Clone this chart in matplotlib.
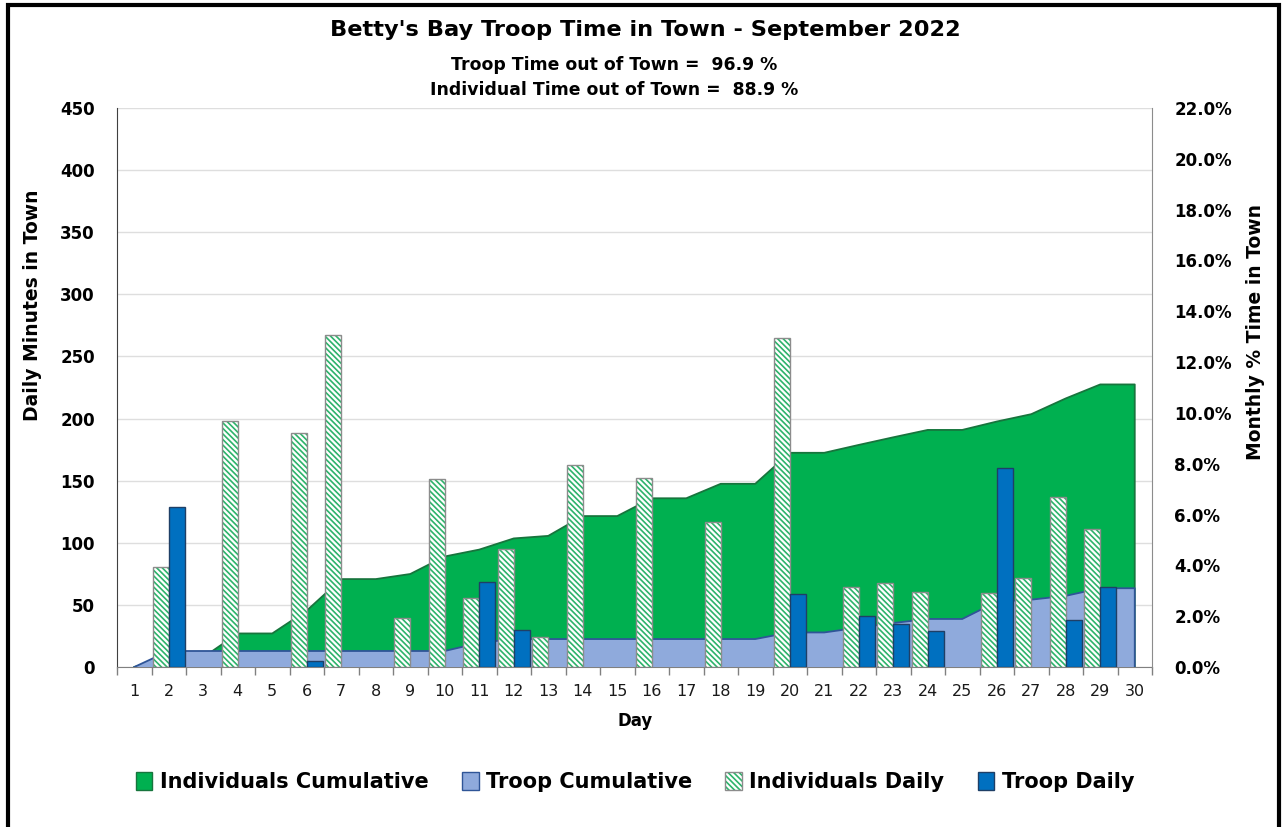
import numpy as np
import matplotlib
matplotlib.use("Agg")
import matplotlib.pyplot as plt
from matplotlib.patches import Patch
from matplotlib.lines import Line2D
from matplotlib.ticker import FixedLocator, FuncFormatter, NullFormatter

# ---------------- data ----------------
days = list(range(1, 31))
day_labels = [str(d) for d in days]

individuals_daily = [0, 80.9, 0, 198.4, 0, 188.2, 266.9, 0, 39.8, 151.0,
                     55.9, 94.9, 24.4, 162.9, 0, 152.2, 0, 116.9, 0, 264.5,
                     0, 64.8, 67.5, 60.7, 0, 59.4, 72.0, 136.8, 111.0, 0]
troop_daily = [0, 128.8, 0, 0, 0, 4.6, 0, 0, 0, 0,
               68.3, 29.8, 0, 0, 0, 0, 0, 0, 0, 58.6,
               0, 41.4, 34.7, 29.0, 0, 160.2, 0, 37.9, 64.8, 0]
individuals_cum_pct = [0, 0.38, 0.38, 1.32, 1.32, 2.22, 3.46, 3.46, 3.66, 4.35,
                       4.62, 5.06, 5.16, 5.94, 5.94, 6.64, 6.64, 7.21, 7.21, 8.43,
                       8.43, 8.74, 9.04, 9.33, 9.33, 9.66, 9.95, 10.57, 11.12, 11.12]
troop_cum_pct = [0, 0.63, 0.63, 0.63, 0.63, 0.63, 0.63, 0.63, 0.63, 0.63,
                 0.95, 1.10, 1.10, 1.10, 1.10, 1.10, 1.10, 1.10, 1.10, 1.36,
                 1.36, 1.55, 1.73, 1.89, 1.89, 2.57, 2.65, 2.80, 3.10, 3.10]

left_ticks = list(range(0, 451, 50))
right_ticks = list(range(0, 23, 2))

title = "Betty's Bay Troop Time in Town - September 2022"
subtitle1 = "Troop Time out of Town =  96.9 %"
subtitle2 = "Individual Time out of Town =  88.9 %"
series_names = ["Individuals Cumulative", "Troop Cumulative",
                "Individuals Daily", "Troop Daily"]

# ---------------- styling ----------------
plt.rcParams['font.family'] = ['DejaVu Sans']
plt.rcParams['hatch.linewidth'] = 1.2

C_IND_CUM = '#00B050'
C_IND_CUM_EDGE = '#17753D'
C_TRP_CUM = '#8FAADC'
C_TRP_CUM_EDGE = '#2F5597'
C_IND_HATCH = '#2DB36B'
C_TRP_DAILY = '#0070C0'
C_TRP_DAILY_EDGE = '#1F3F66'
HATCH = '\\' * 6

W, H = 1283, 827
fig = plt.figure(figsize=(W / 100, H / 100), dpi=100)
x0, x1, y0, y1 = 117, 1152, 108, 667
rect = [x0 / W, 1 - y1 / H, (x1 - x0) / W, (y1 - y0) / H]

ax = fig.add_axes(rect)      # grid + left axis
ax2 = ax.twinx()             # cumulative areas (right axis, %)
ax3 = ax.twinx()             # daily bars (same scale as left axis)
ax.set_zorder(0)
ax2.set_zorder(1)
ax3.set_zorder(2)
ax2.patch.set_visible(False)
ax3.patch.set_visible(False)

x = np.array(days, dtype=float)
ind_d = np.array(individuals_daily, dtype=float)
trp_d = np.array(troop_daily, dtype=float)
ind_c = np.array(individuals_cum_pct, dtype=float)
trp_c = np.array(troop_cum_pct, dtype=float)

# ---- areas ----
ax2.fill_between(x, 0, ind_c, facecolor=C_IND_CUM, edgecolor='none', zorder=1)
ax2.plot(np.append(x, x[-1]), np.append(ind_c, 0), color=C_IND_CUM_EDGE, lw=1.3, zorder=2)
ax2.fill_between(x, 0, trp_c, facecolor=C_TRP_CUM, edgecolor='none', zorder=3)
ax2.plot(np.append(x, x[-1]), np.append(trp_c, 0), color=C_TRP_CUM_EDGE, lw=1.3, zorder=4)

# ---- bars ----
bw = 0.46
m_i = ind_d > 0
m_t = trp_d > 0
ax3.bar(x[m_i] - bw / 2, ind_d[m_i], width=bw, facecolor='white',
        edgecolor=C_IND_HATCH, hatch=HATCH, linewidth=0, zorder=2)
ax3.bar(x[m_i] - bw / 2, ind_d[m_i], width=bw, facecolor='none',
        edgecolor='#8C8C8C', linewidth=1.0, zorder=3)
ax3.bar(x[m_t] + bw / 2, trp_d[m_t], width=bw, facecolor=C_TRP_DAILY,
        edgecolor=C_TRP_DAILY_EDGE, linewidth=1.0, zorder=3)

# ---- axes limits / ticks ----
for a in (ax, ax2, ax3):
    a.set_xlim(0.5, 30.5)
ax.set_ylim(0, 450)
ax3.set_ylim(0, 450)
ax2.set_ylim(0, 22)
ax3.set_axis_off()

ax.xaxis.set_major_locator(FixedLocator(np.arange(0.5, 31, 1.0)))
ax.xaxis.set_major_formatter(NullFormatter())
ax.xaxis.set_minor_locator(FixedLocator(days))
ax.set_xticklabels(day_labels, minor=True)
ax.tick_params(axis='x', which='major', length=6, width=1, color='#808080', direction='out')
ax.tick_params(axis='x', which='minor', length=0, pad=12, labelsize=11.5, labelcolor='#1a1a1a')

ax.set_yticks(left_ticks)
ax.set_yticklabels([str(v) for v in left_ticks], fontweight='bold')
ax.tick_params(axis='y', length=0, pad=16, labelsize=12)
ax.yaxis.grid(True, color='#DEDEDE', lw=1)
ax.set_axisbelow(True)

ax2.set_yticks(right_ticks)
ax2.yaxis.set_major_formatter(FuncFormatter(lambda v, p: f"{v:.1f}%"))
for lab in ax2.get_yticklabels():
    lab.set_fontweight('bold')
ax2.tick_params(axis='y', length=0, pad=16, labelsize=12)

for s in ('top', 'right'):
    ax.spines[s].set_visible(False)
ax.spines['left'].set_color('#404040')
ax.spines['bottom'].set_color('#808080')
for s in ('top', 'left', 'bottom'):
    ax2.spines[s].set_visible(False)
ax2.spines['right'].set_color('#8C8C8C')

ax.set_ylabel('Daily Minutes in Town', fontsize=13.5, fontweight='bold')
ax.yaxis.set_label_coords(-0.0725, 0.648)
ax2.set_ylabel('Monthly % Time in Town', fontsize=13.5, fontweight='bold')
ax2.yaxis.set_label_coords(1.0908, 0.600)
ax.set_xlabel('Day', fontsize=12, fontweight='bold')
ax.xaxis.set_label_coords(0.5005, -0.081)

# ---- titles ----
fig.text(645 / W, 1 - 30.5 / H, title, ha='center', va='center', fontsize=16.2, fontweight='bold')
fig.text(614 / W, 1 - 65 / H, subtitle1, ha='center', va='center', fontsize=12.4, fontweight='bold')
fig.text(614 / W, 1 - 90 / H, subtitle2, ha='center', va='center', fontsize=12.4, fontweight='bold')

# ---- legend ----
h1 = Patch(facecolor=C_IND_CUM, edgecolor=C_IND_CUM_EDGE, lw=1)
h2 = Patch(facecolor=C_TRP_CUM, edgecolor=C_TRP_CUM_EDGE, lw=1)
h3a = Patch(facecolor='white', edgecolor=C_IND_HATCH, hatch=HATCH, lw=0)
h3b = Patch(facecolor='none', edgecolor='#8C8C8C', lw=1)
h4 = Patch(facecolor=C_TRP_DAILY, edgecolor=C_TRP_DAILY_EDGE, lw=1)
fig.legend([h1, h2, (h3a, h3b), h4], series_names, loc='center',
           bbox_to_anchor=(635 / W, 1 - 782 / H), ncol=4, frameon=False,
           prop={'weight': 'bold', 'size': 15}, handlelength=0.8, handleheight=1.0,
           handletextpad=0.35, columnspacing=1.6)

# ---- outer border ----
bx0, bx1, by0, by1 = 8 / W, 1279 / W, 1 - 5 / H, 1 - 826 / H
fig.add_artist(Line2D([bx0, bx0, bx1, bx1], [by1, by0, by0, by1],
                      transform=fig.transFigure, color='black', lw=3, solid_joinstyle='miter'))

fig.savefig('out.png', dpi=100)
